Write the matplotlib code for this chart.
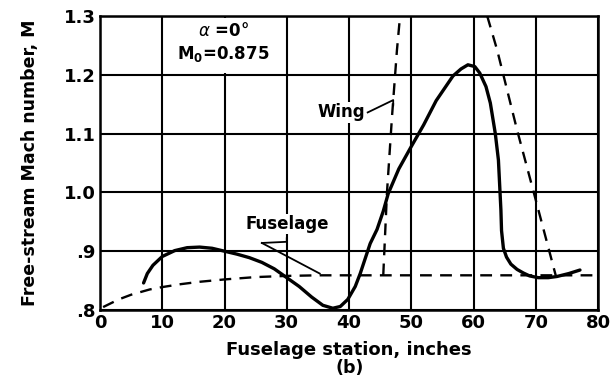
import matplotlib
matplotlib.use('Agg')
import matplotlib.pyplot as plt
from matplotlib.patches import Rectangle

# solid curve (measured Mach number along the fuselage)
station = [7.0, 7.6, 8.5, 10, 12, 14, 16, 18, 20, 22, 24, 26, 28, 30, 32, 34,
           35.8, 37.4, 38.6, 39.8, 41, 41.8, 43.4, 44.5, 45.5, 46.3, 48, 50, 52,
           54, 56.7, 58, 59.1, 60.2, 61, 62, 62.7, 63.5, 64.0, 64.4, 64.5, 64.8,
           65.3, 66, 67, 68, 69, 70.4, 72, 73.4, 75.3, 77.1]
mach = [0.846, 0.862, 0.876, 0.891, 0.901, 0.906, 0.907, 0.905, 0.900, 0.895,
        0.889, 0.881, 0.870, 0.855, 0.840, 0.822, 0.808, 0.803, 0.806, 0.818,
        0.840, 0.862, 0.913, 0.937, 0.968, 0.998, 1.040, 1.078, 1.115, 1.156,
        1.198, 1.210, 1.217, 1.214, 1.203, 1.180, 1.152, 1.100, 1.055, 0.970,
        0.935, 0.905, 0.890, 0.878, 0.869, 0.863, 0.858, 0.855, 0.855, 0.857,
        0.862, 0.868]

# dashed fuselage curve
fus_x = [0.5, 3, 5, 8, 10, 13, 16, 20, 25, 30, 35, 40, 80]
fus_y = [0.805, 0.818, 0.826, 0.835, 0.839, 0.844, 0.848, 0.852, 0.856, 0.858, 0.859, 0.859, 0.859]

# dashed wing lines
wing1_x = [45.5, 46.1, 46.9, 47.7, 48.2]
wing1_y = [0.859, 1.0, 1.128, 1.242, 1.3]
wing2_x = [62.2, 63.8, 67.0, 69.8, 73.2]
wing2_y = [1.3, 1.242, 1.106, 0.995, 0.859]

xticks = [0, 10, 20, 30, 40, 50, 60, 70, 80]
yticks = [0.8, 0.9, 1.0, 1.1, 1.2, 1.3]
ytick_labels = ['.8', '.9', '1.0', '1.1', '1.2', '1.3']

fig = plt.figure(figsize=(6.15, 3.88), dpi=100)
ax = fig.add_axes([0.1626, 0.2010, 0.8098, 0.7578])

ax.set_xlim(0, 80)
ax.set_ylim(0.8, 1.3)
ax.set_xticks(xticks)
ax.set_yticks(yticks)
ax.set_yticklabels(ytick_labels)
ax.tick_params(length=0, labelsize=13, pad=3)
for lab in ax.get_xticklabels() + ax.get_yticklabels():
    lab.set_fontweight('bold')
ax.grid(True, color='black', linewidth=1.5)
ax.set_axisbelow(True)
for s in ax.spines.values():
    s.set_linewidth(1.8)

# box around the condition text hides the grid
ax.add_patch(Rectangle((10.3, 1.203), 19.4, 0.094, facecolor='white',
                       edgecolor='none', zorder=1.5))
ax.text(19.8, 1.274, r'$\alpha$ =0°', ha='center', va='center', fontsize=12,
        fontweight='bold', zorder=3)
ax.text(19.8, 1.236, r'M$_\mathbf{0}$=0.875', ha='center', va='center',
        fontsize=12, fontweight='bold', zorder=3)

dash = (0, (5, 3.5))
ax.plot(fus_x, fus_y, color='black', lw=1.7, linestyle=dash, zorder=2)
ax.plot(wing1_x, wing1_y, color='black', lw=1.7, linestyle=dash, zorder=2)
ax.plot(wing2_x, wing2_y, color='black', lw=1.7, linestyle=dash, zorder=2)
ax.plot(station, mach, color='black', lw=2.4, zorder=2.5,
        solid_capstyle='round', solid_joinstyle='round')

# labels with leader lines
ax.text(30.0, 0.946, 'Fuselage', ha='center', va='center', fontsize=12,
        fontweight='bold', zorder=3,
        bbox=dict(facecolor='white', edgecolor='none', pad=1))
ax.plot([26.0, 30.0, 30.0], [0.914, 0.916, 0.922], color='black', lw=1.3, zorder=3)
ax.plot([26.0, 35.3], [0.914, 0.862], color='black', lw=1.3, zorder=3)

ax.text(38.7, 1.136, 'Wing', ha='center', va='center', fontsize=12,
        fontweight='bold', zorder=3,
        bbox=dict(facecolor='white', edgecolor='none', pad=1))
ax.plot([43.0, 47.1, 47.1], [1.136, 1.157, 1.148], color='black', lw=1.3, zorder=3)

ax.set_xlabel('Fuselage station, inches', fontsize=13, fontweight='bold',
              labelpad=6)
ax.set_ylabel('Free-stream Mach number, M', fontsize=12.5, fontweight='bold',
              labelpad=18)
fig.text(0.569, 0.052, '(b)', ha='center', va='center', fontsize=12.5,
         fontweight='bold')

fig.savefig('out.png', dpi=100)
